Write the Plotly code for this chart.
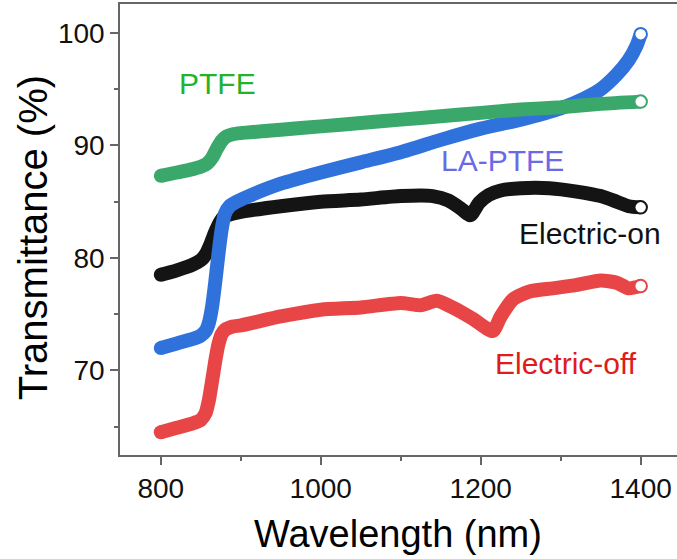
import plotly.graph_objects as go

# Transmittance spectra (wavelength in nm, transmittance in %)
wl_ptfe = [800, 820, 840, 850, 858, 864, 870, 876, 882, 890, 900, 950, 1000,
           1050, 1100, 1150, 1200, 1250, 1300, 1350, 1400]
t_ptfe = [87.3, 87.6, 87.9, 88.1, 88.4, 88.9, 89.7, 90.4, 90.8, 91.0, 91.1, 91.4,
          91.7, 92.0, 92.3, 92.6, 92.9, 93.2, 93.4, 93.7, 93.9]

wl_la = [800, 820, 840, 850, 856, 860, 864, 868, 872, 876, 880, 886, 895, 910,
         950, 1000, 1050, 1100, 1150, 1200, 1250, 1300, 1330, 1350, 1370, 1385,
         1395, 1400]
t_la = [72.0, 72.4, 72.8, 73.1, 73.5, 74.2, 75.6, 77.8, 80.3, 82.5, 83.9, 84.6,
        85.0, 85.5, 86.6, 87.6, 88.5, 89.4, 90.5, 91.5, 92.3, 93.3, 94.2, 95.0,
        96.3, 97.6, 98.9, 99.9]

wl_on = [800, 820, 840, 850, 856, 862, 868, 874, 880, 888, 900, 950, 1000, 1050,
         1100, 1140, 1160, 1175, 1187, 1198, 1210, 1225, 1250, 1286, 1320, 1350,
         1370, 1385, 1400]
t_on = [78.5, 78.9, 79.4, 79.8, 80.3, 81.2, 82.3, 83.2, 83.7, 83.9, 84.1, 84.6,
        85.0, 85.2, 85.5, 85.5, 85.1, 84.4, 83.8, 84.9, 85.6, 86.0, 86.2, 86.2,
        85.9, 85.5, 85.0, 84.6, 84.5]

wl_off = [800, 820, 840, 850, 856, 860, 864, 868, 872, 876, 880, 890, 900, 950,
          1000, 1050, 1100, 1125, 1145, 1165, 1190, 1215, 1225, 1240, 1260, 1290,
          1320, 1350, 1370, 1385, 1400]
t_off = [64.5, 64.9, 65.3, 65.6, 66.2, 67.3, 69.0, 70.8, 72.3, 73.2, 73.6, 73.9,
         74.0, 74.8, 75.4, 75.6, 76.0, 75.8, 76.2, 75.6, 74.6, 73.5, 74.8, 76.3,
         77.0, 77.3, 77.6, 78.0, 77.8, 77.3, 77.5]

# drawing order: bottom to top
series = [
    ("Electric-on", wl_on, t_on, "#141414"),
    ("Electric-off", wl_off, t_off, "#e84646"),
    ("LA-PTFE", wl_la, t_la, "#2f72dc"),
    ("PTFE", wl_ptfe, t_ptfe, "#3aa86b"),
]

FONT = "Liberation Sans, Arial, sans-serif"
BAND = 14

fig = go.Figure()
for name, wl, t, col in series:
    # thick band of overlapping open circles
    fig.add_trace(go.Scatter(
        x=wl, y=t, mode="lines", name=name,
        line=dict(color=col, width=BAND, shape="spline", smoothing=0.6),
        showlegend=False, hoverinfo="skip"))
    # rounded start of the band
    fig.add_trace(go.Scatter(
        x=wl[:1], y=t[:1], mode="markers",
        marker=dict(symbol="circle", size=BAND, color=col, line=dict(width=0)),
        showlegend=False, hoverinfo="skip"))
    # last open circle
    fig.add_trace(go.Scatter(
        x=wl[-1:], y=t[-1:], mode="markers",
        marker=dict(symbol="circle", size=12.5, color="white",
                    line=dict(color=col, width=2)),
        showlegend=False, hoverinfo="skip"))

labels = [
    ("PTFE", 871, 95.5, "#22b32c"),
    ("LA-PTFE", 1227, 88.65, "#6a6ae6"),
    ("Electric-on", 1336, 82.15, "#111111"),
    ("Electric-off", 1306, 70.6, "#e01b1b"),
]
for txt, x, y, c in labels:
    fig.add_annotation(x=x, y=y, xref="x", yref="y", text=txt, showarrow=False,
                       xanchor="center", yanchor="middle",
                       font=dict(family=FONT, size=30, color=c))

# axis titles
fig.add_annotation(x=0.499, y=-0.175, xref="paper", yref="paper",
                   text="Wavelength (nm)", showarrow=False,
                   xanchor="center", yanchor="middle",
                   font=dict(family=FONT, size=38, color="#000"))
fig.add_annotation(x=-0.156, y=0.481, xref="paper", yref="paper",
                   text="Transmittance (%)", showarrow=False, textangle=-90,
                   xanchor="center", yanchor="middle",
                   font=dict(family=FONT, size=40, color="#000"))

axis_common = dict(
    showgrid=False, zeroline=False, showline=True, linecolor="#666666",
    linewidth=1.5, ticks="outside", tickcolor="#666666", tickwidth=1.5,
    ticklen=8, tickfont=dict(family=FONT, size=28, color="#111"),
)

fig.update_xaxes(range=[749, 1445.4], tick0=800, dtick=200, mirror=True,
                 minor=dict(ticks="outside", ticklen=4, dtick=100, tick0=800,
                            tickcolor="#666666", tickwidth=1.5),
                 **axis_common)
fig.update_yaxes(range=[62.48, 102.58], tick0=70, dtick=10,
                 minor=dict(ticks="outside", ticklen=4, dtick=5, tick0=65,
                            tickcolor="#666666", tickwidth=1.5),
                 **axis_common)

fig.update_layout(
    width=677, height=559,
    margin=dict(l=120, r=0, t=4, b=104),
    paper_bgcolor="white", plot_bgcolor="white",
    font=dict(family=FONT),
)

fig.write_html("out.html")
